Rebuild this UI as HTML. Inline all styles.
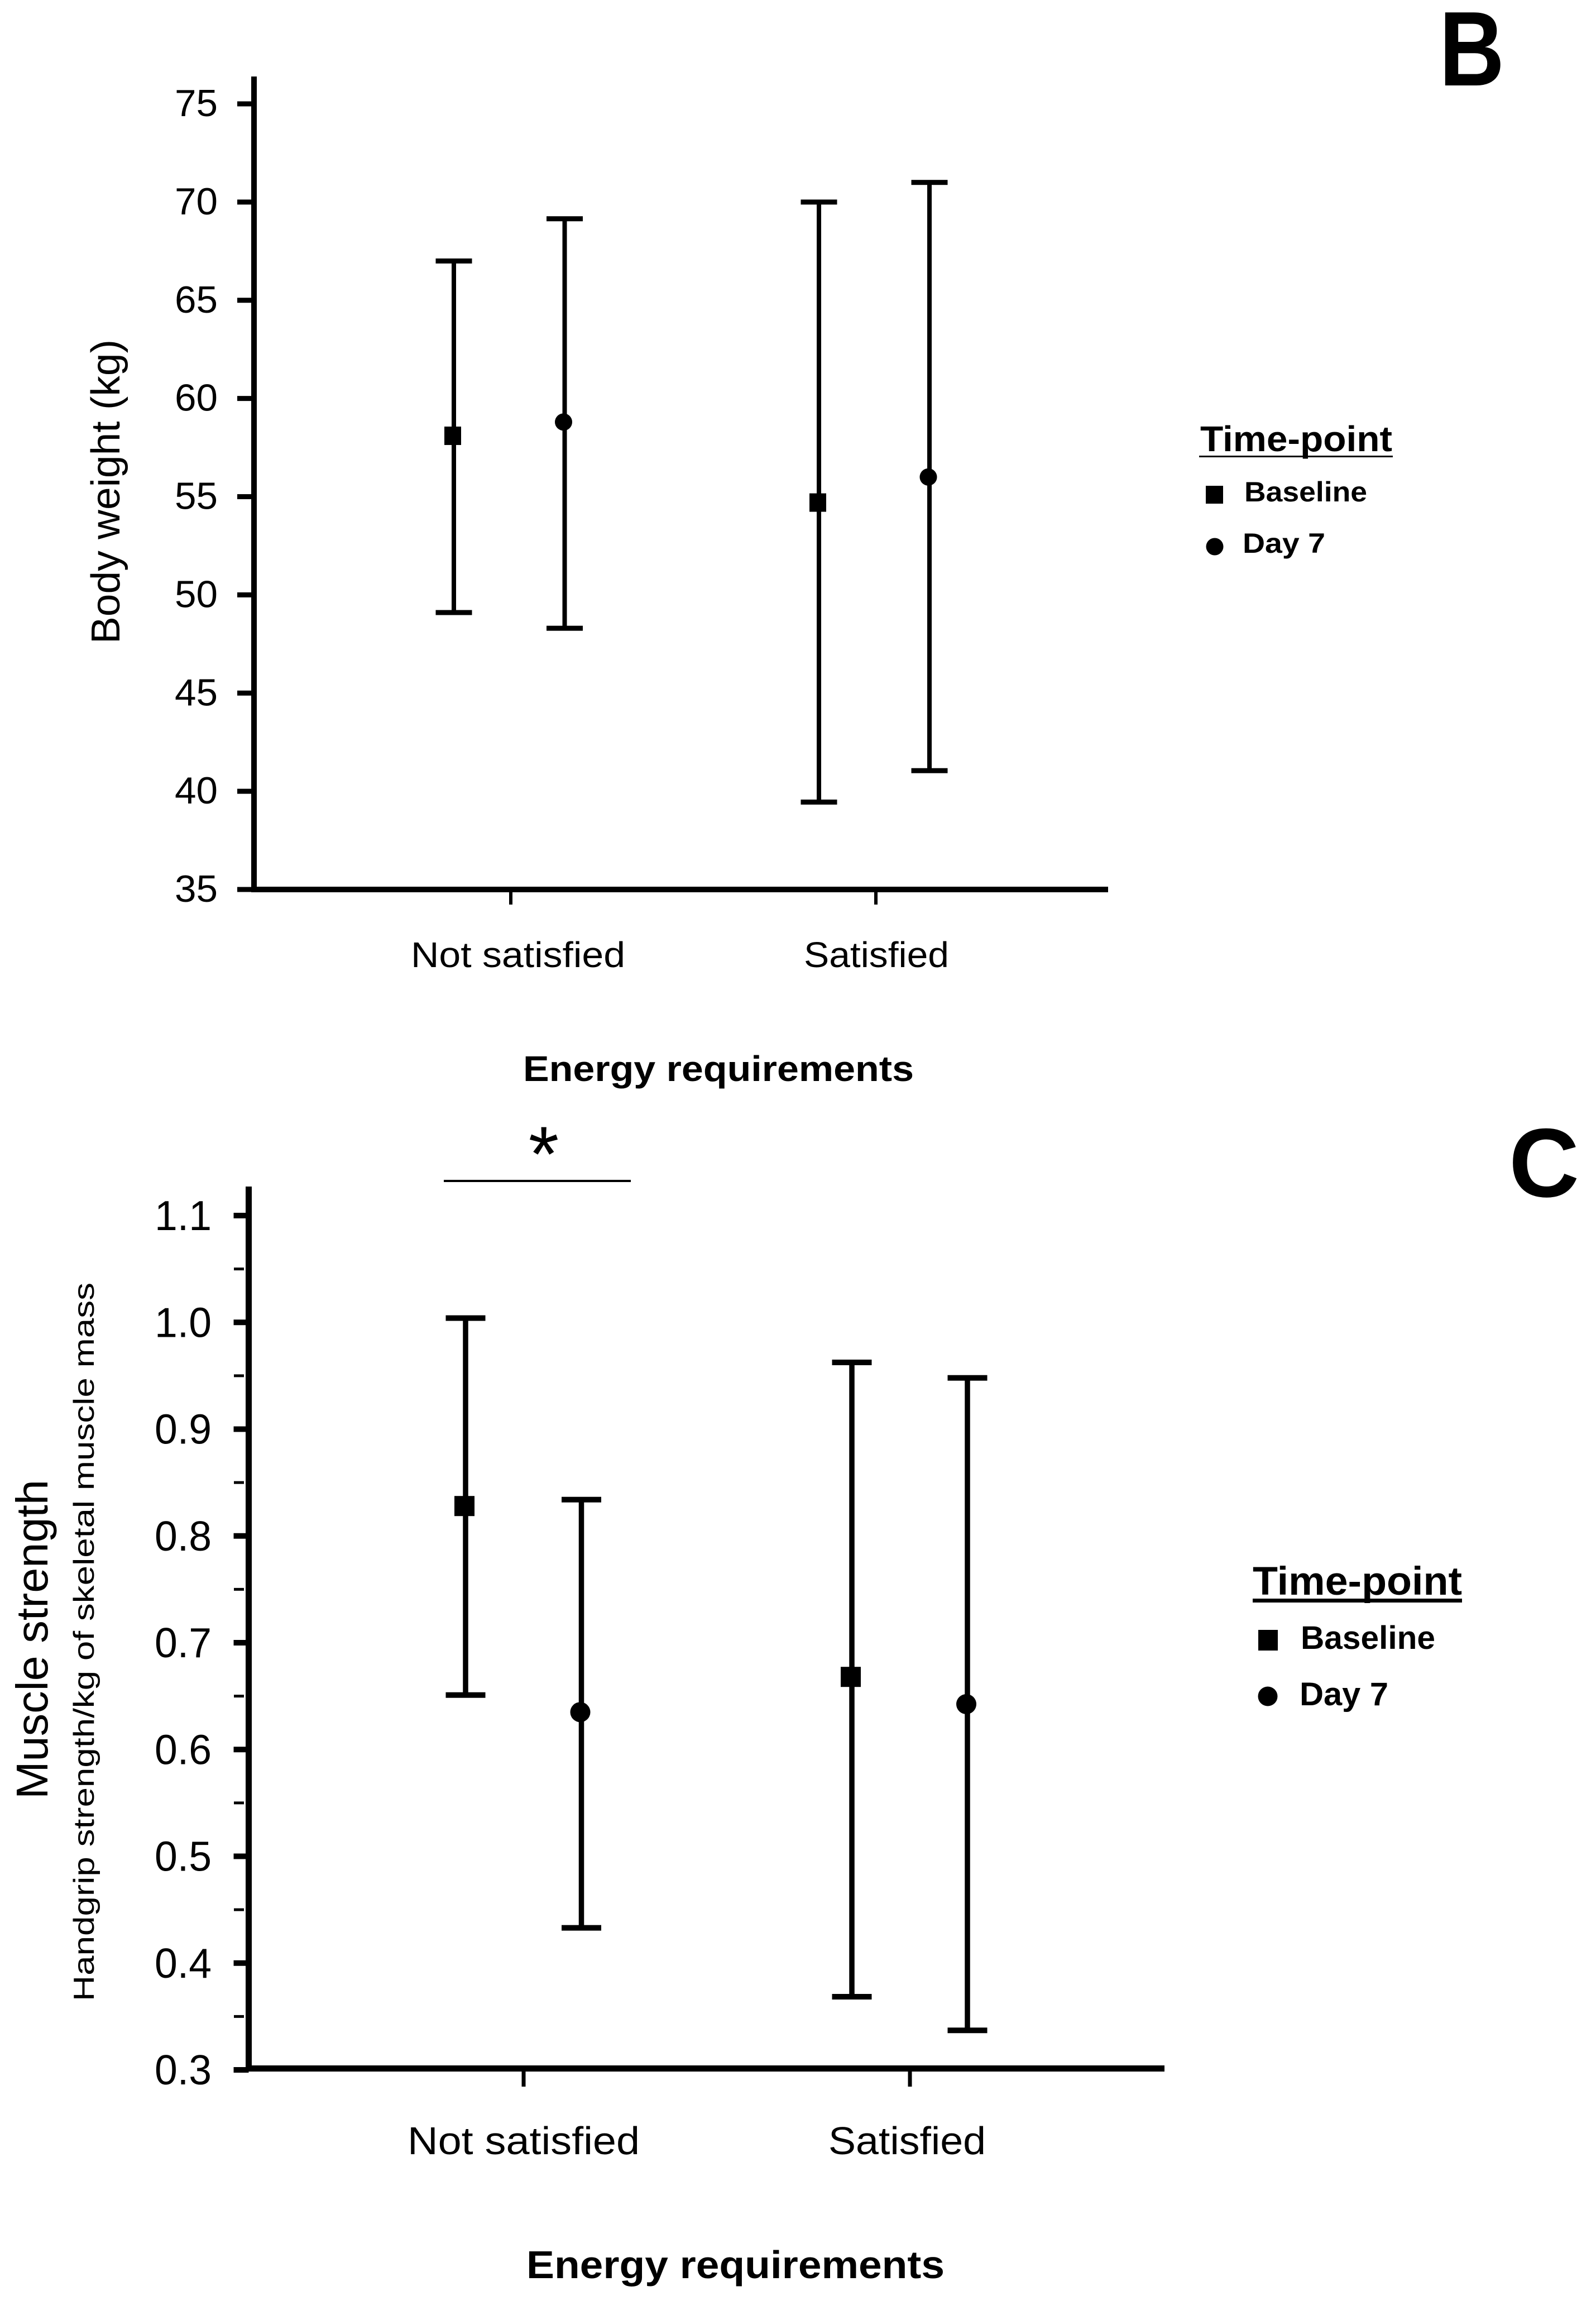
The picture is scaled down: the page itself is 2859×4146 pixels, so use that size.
<!DOCTYPE html>
<html lang="en">
<head>
<meta charset="utf-8">
<title>Body weight and muscle strength by energy requirements</title>
<style>
html,body{margin:0;padding:0;background:#fff}
svg{display:block}
text{font-family:"Liberation Sans",sans-serif;fill:#000}
</style>
</head>
<body>
<svg id="figure" xmlns="http://www.w3.org/2000/svg" width="2859" height="4146" viewBox="0 0 2859 4146">
  <rect width="2859" height="4146" fill="#fff"/>
  <g id="panelB"></g>
  <g id="panelC"></g>

  <text x="2578" y="153" font-size="190" font-weight="700" textLength="117" lengthAdjust="spacingAndGlyphs">B</text>
  <text x="2703" y="2143" font-size="175" font-weight="700" textLength="126" lengthAdjust="spacingAndGlyphs">C</text>

  <text transform="translate(214 1153) rotate(-90)" font-size="72" textLength="545" lengthAdjust="spacingAndGlyphs">Body weight (kg)</text>
  <text x="937" y="1936" font-size="64" font-weight="700" textLength="700" lengthAdjust="spacingAndGlyphs">Energy requirements</text>
  <text transform="translate(85 3222) rotate(-90)" font-size="80" textLength="572" lengthAdjust="spacingAndGlyphs">Muscle strength</text>
  <text transform="translate(168 3584) rotate(-90)" font-size="52" textLength="1287" lengthAdjust="spacingAndGlyphs">Handgrip strength/kg of skeletal muscle mass</text>
  <text x="943" y="4080" font-size="70" font-weight="700" textLength="749" lengthAdjust="spacingAndGlyphs">Energy requirements</text>

  <g>
    <text x="2150" y="808" font-size="64" font-weight="700" textLength="344" lengthAdjust="spacingAndGlyphs">Time-point</text>
    <rect x="2148" y="816" width="347" height="3" fill="#000"/>
    <rect x="2160" y="870" width="31" height="32" fill="#000"/>
    <text x="2229" y="898" font-size="50" font-weight="700" textLength="220" lengthAdjust="spacingAndGlyphs">Baseline</text>
    <circle cx="2176" cy="979" r="15.5" fill="#000"/>
    <text x="2226" y="990" font-size="50" font-weight="700" textLength="148" lengthAdjust="spacingAndGlyphs">Day 7</text>
  </g>
  <g>
    <text x="2244" y="2856" font-size="71" font-weight="700" textLength="375" lengthAdjust="spacingAndGlyphs">Time-point</text>
    <rect x="2244" y="2863" width="375" height="7" fill="#000"/>
    <rect x="2254" y="2919" width="35" height="37" fill="#000"/>
    <text x="2330" y="2953" font-size="58" font-weight="700" textLength="241" lengthAdjust="spacingAndGlyphs">Baseline</text>
    <circle cx="2271" cy="3038" r="17.5" fill="#000"/>
    <text x="2328" y="3054" font-size="58" font-weight="700" textLength="159" lengthAdjust="spacingAndGlyphs">Day 7</text>
  </g>

  <g>
    <rect x="795" y="2113" width="335" height="4" fill="#000"/>
    <text x="974" y="2115" font-size="140" text-anchor="middle">*</text>
  </g>
</svg>
<script>
var NS = 'http://www.w3.org/2000/svg';

/* Panel B: body weight (kg) */
var bCategories = ['Not satisfied', 'Satisfied'];
var bTickLabels = ['35', '40', '45', '50', '55', '60', '65', '70', '75'];
var bTickValues = [35, 40, 45, 50, 55, 60, 65, 70, 75];
var bBaselineMean = [58.1, 54.7];
var bBaselineUpper = [67.0, 70.0];
var bBaselineLower = [49.1, 39.45];
var bDay7Mean = [58.8, 56.0];
var bDay7Upper = [69.15, 71.0];
var bDay7Lower = [48.3, 41.05];

/* Panel C: muscle strength */
var cCategories = ['Not satisfied', 'Satisfied'];
var cTickLabels = ['0.3', '0.4', '0.5', '0.6', '0.7', '0.8', '0.9', '1.0', '1.1'];
var cTickValues = [0.3, 0.4, 0.5, 0.6, 0.7, 0.8, 0.9, 1.0, 1.1];
var cMinorTicks = [0.35, 0.45, 0.55, 0.65, 0.75, 0.85, 0.95, 1.05];
var cBaselineMean = [0.828, 0.668];
var cBaselineUpper = [1.004, 0.9625];
var cBaselineLower = [0.651, 0.3685];
var cDay7Mean = [0.635, 0.6425];
var cDay7Upper = [0.834, 0.948];
var cDay7Lower = [0.433, 0.337];

function make(parent, tag, attrs, text) {
  var el = document.createElementNS(NS, tag);
  for (var k in attrs) { el.setAttribute(k, attrs[k]); }
  if (text !== undefined) { el.textContent = text; }
  parent.appendChild(el);
  return el;
}

function drawPanel(cfg) {
  var g = document.getElementById(cfg.id);
  var y = function (v) { return cfg.yBottom - (v - cfg.vMin) / (cfg.vMax - cfg.vMin) * (cfg.yBottom - cfg.yMaxPx); };
  var el;

  el = make(g, 'rect', { x: cfg.axisX - cfg.axisW / 2, y: cfg.axisTop, width: cfg.axisW, height: cfg.xAxisY - cfg.axisTop + cfg.xAxisW / 2, fill: '#000' });
  
  

  el = make(g, 'rect', { x: cfg.axisX - cfg.axisW / 2, y: cfg.xAxisY - cfg.xAxisW / 2, width: cfg.axisRight - cfg.axisX + cfg.axisW / 2, height: cfg.xAxisW, fill: '#000' });
  
  

  cfg.tickValues.forEach(function (v, i) {
    var t = make(g, 'rect', { x: cfg.axisX - cfg.tickLen, y: y(v) - cfg.tickW / 2, width: cfg.tickLen, height: cfg.tickW, fill: '#000' });
    
    
    var l = make(g, 'text', { x: cfg.labelX, y: y(v) + cfg.labelDy, 'font-size': cfg.labelSize, textLength: cfg.labelW, lengthAdjust: 'spacingAndGlyphs' }, cfg.tickLabels[i]);
    
    
  });

  (cfg.minorTicks || []).forEach(function (v) {
    var t = make(g, 'rect', { x: cfg.minorX, y: y(v) - 2.5, width: cfg.minorLen, height: 5, fill: '#000' });
    
    
  });

  cfg.categories.forEach(function (name, i) {
    var t = make(g, 'rect', { x: cfg.catTickX[i] - cfg.catTickW / 2, y: cfg.catTickY, width: cfg.catTickW, height: cfg.catTickLen, fill: '#000' });
    
    
    var l = make(g, 'text', { x: cfg.catLabelX[i], y: cfg.catLabelY, 'font-size': cfg.catSize, textLength: cfg.catLabelW[i], lengthAdjust: 'spacingAndGlyphs' }, name);
    
    
  });

  cfg.series.forEach(function (s) {
    s.mean.forEach(function (m, i) {
      var cx = s.x[i];
      var stem = make(g, 'rect', { x: cx - cfg.lineW / 2, y: y(s.upper[i]), width: cfg.lineW, height: y(s.lower[i]) - y(s.upper[i]), fill: '#000' });
      
      
      var capTop = make(g, 'rect', { x: cx - cfg.capW / 2, y: y(s.upper[i]) - cfg.capH / 2, width: cfg.capW, height: cfg.capH, fill: '#000' });
      
      
      var capBot = make(g, 'rect', { x: cx - cfg.capW / 2, y: y(s.lower[i]) - cfg.capH / 2, width: cfg.capW, height: cfg.capH, fill: '#000' });
      
      
      var mark;
      if (s.key === 'baseline') {
        mark = make(g, 'rect', { x: cx - 2 - cfg.markerW / 2, y: y(m) - cfg.markerH / 2, width: cfg.markerW, height: cfg.markerH, fill: '#000' });
      } else {
        mark = make(g, 'circle', { cx: cx - 2, cy: y(m), r: cfg.markerR, fill: '#000' });
      }
      
      
    });
  });
}

drawPanel({
  id: 'panelB', prefix: 'b', vMin: 35, vMax: 75, yBottom: 1593, yMaxPx: 186,
  axisX: 455, axisTop: 137, axisRight: 1985, axisW: 10, xAxisY: 1593, xAxisW: 10, tickLen: 30, tickW: 9,
  tickValues: bTickValues, tickLabels: bTickLabels, labelX: 313, labelW: 77, labelDy: 22, labelSize: 68,
  categories: bCategories, catTickX: [915, 1569], catTickW: 6, catTickY: 1598, catTickLen: 22, catLabelX: [736, 1440], catLabelY: 1732, catLabelW: [384, 260], catSize: 64,
  lineW: 8, capW: 65, capH: 9, markerW: 30, markerH: 33, markerR: 15.5,
  series: [
    { key: 'baseline', mean: bBaselineMean, upper: bBaselineUpper, lower: bBaselineLower, x: [813, 1467] },
    { key: 'day7', mean: bDay7Mean, upper: bDay7Upper, lower: bDay7Lower, x: [1011.5, 1665] }
  ]
});

drawPanel({
  id: 'panelC', prefix: 'c', vMin: 0.3, vMax: 1.1, yBottom: 3707, yMaxPx: 2177,
  axisX: 445.5, axisTop: 2125, axisRight: 2086, axisW: 11, xAxisY: 3704.5, xAxisW: 11, tickLen: 27, tickW: 10,
  tickValues: cTickValues, tickLabels: cTickLabels, minorTicks: cMinorTicks, minorX: 419, minorLen: 18, labelX: 277, labelW: 102, labelDy: 26, labelSize: 75,
  categories: cCategories, catTickX: [938, 1630], catTickW: 7, catTickY: 3710, catTickLen: 27, catLabelX: [730, 1484], catLabelY: 3858, catLabelW: [416, 282], catSize: 70,
  lineW: 9.5, capW: 71, capH: 10, markerW: 36, markerH: 36, markerR: 18,
  series: [
    { key: 'baseline', mean: cBaselineMean, upper: cBaselineUpper, lower: cBaselineLower, x: [834, 1526] },
    { key: 'day7', mean: cDay7Mean, upper: cDay7Upper, lower: cDay7Lower, x: [1041.5, 1733] }
  ]
});
</script>
</body>
</html>
